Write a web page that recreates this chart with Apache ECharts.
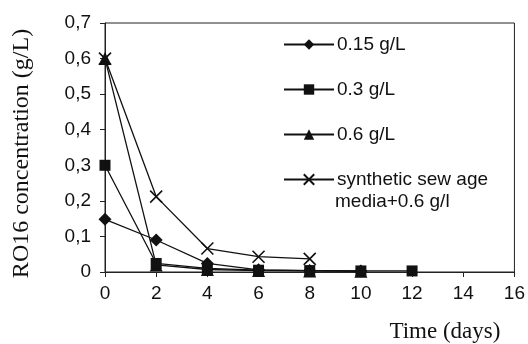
<!DOCTYPE html>
<html><head><meta charset="utf-8">
<script src="https://cdn.jsdelivr.net/npm/echarts@6/dist/echarts.min.js"></script>
<style>html,body{margin:0;padding:0;background:#fff}#c{width:528px;height:344px}</style>
</head><body><div id="c"></div>
<script>
var days = [0, 2, 4, 6, 8, 10, 12];
var s015 = [0.148, 0.09, 0.024, 0.006, 0.004, 0.003];
var s03 = [0.3, 0.024, 0.01, 0.005, 0.004, 0.003, 0.003];
var s06 = [0.6, 0.02, 0.007, 0.004, 0.003, 0.002];
var sSyn = [0.6, 0.212, 0.066, 0.043, 0.037];
var names = ['0.15 g/L', '0.3 g/L', '0.6 g/L', 'synthetic sew age'];
var nameLine2 = 'media+0.6 g/l';
var yTitle = 'RO16 concentration (g/L)';
var xTitle = 'Time (days)';

function pairs(arr){ return arr.map(function(v,i){ return [days[i], v]; }); }
var crossPath = 'path://M0,0L10,10M10,0L0,10';
var symbols = ['diamond', 'rect', 'triangle', crossPath];
var sizes = [13, 11, 13, 12];
var datas = [s015, s03, s06, sSyn];

var series = datas.map(function(d, i){
  var isX = i === 3;
  return {
    name: names[i], type: 'line', data: pairs(d),
    symbol: symbols[i], symbolSize: sizes[i],
    showAllSymbol: true,
    lineStyle: {color: '#111', width: 1.3},
    itemStyle: isX ? {color: 'rgba(0,0,0,0)', borderColor: '#111', borderWidth: 1.6} : {color: '#111', borderWidth: 0},
    z: 5 - i,
    animation: false
  };
});

var chart = echarts.init(document.getElementById('c'), null, {renderer: 'canvas'});
chart.setOption({
  animation: false,
  grid: {left: 105, right: 13, top: 23, bottom: 72, show: true, borderColor: '#222', borderWidth: 1},
  xAxis: {
    type: 'value', min: 0, max: 16, interval: 2,
    axisLine: {lineStyle: {color: '#222', width: 1}},
    axisTick: {show: true, length: 5, lineStyle: {color: '#222'}},
    splitLine: {show: false},
    axisLabel: {color: '#111', fontFamily: 'Liberation Sans', fontSize: 19, margin: 12},
    name: xTitle, nameLocation: 'end', nameGap: 0,
    nameTextStyle: {fontFamily: 'Liberation Serif', fontSize: 23, color: '#111', align: 'right', verticalAlign: 'top', padding: [48, 14, 0, 0]}
  },
  yAxis: {
    type: 'value', min: 0, max: 0.7, interval: 0.1,
    axisLine: {show: true, lineStyle: {color: '#222', width: 1}},
    axisTick: {show: true, length: 5, lineStyle: {color: '#222'}},
    splitLine: {show: false},
    axisLabel: {color: '#111', fontFamily: 'Liberation Sans', fontSize: 19, margin: 14,
      formatter: function(v){ return v === 0 ? '0' : v.toFixed(1).replace('.', ','); }},
    name: yTitle, nameLocation: 'middle', nameGap: 71,
    nameTextStyle: {fontFamily: 'Liberation Serif', fontSize: 24, color: '#111', padding: [0, 12, 0, 0]}
  },
  legend: {
    orient: 'vertical', left: 278, top: 30, itemGap: 26,
    itemWidth: 50, itemHeight: 13,
    textStyle: {fontFamily: 'Liberation Sans', fontSize: 19, color: '#111', padding: [0, 0, 0, -2]},
    data: names.map(function(n){ return {name: n}; })
  },
  graphic: [{
    type: 'text', left: 335, top: 192,
    style: {text: nameLine2, font: '19px "Liberation Sans"', fill: '#111'}
  }],
  series: series
});
</script></body></html>
